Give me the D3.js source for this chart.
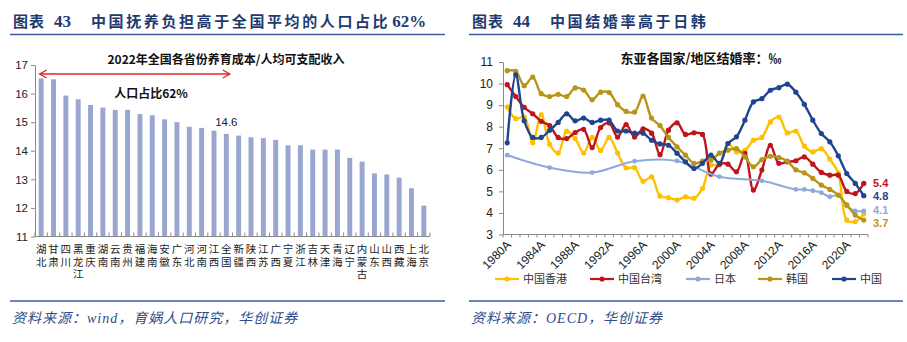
<!DOCTYPE html>
<html>
<head>
<meta charset="utf-8">
<script src="https://cdn.jsdelivr.net/npm/d3@7"></script>
<style>
  body { margin: 0; background: #fff; }
  svg { display: block; }
</style>
</head>
<body>
<svg id="drawing_region"></svg>
<script>
// ---- 图表43 data ----
const provinces = ["湖北","甘肃","四川","黑龙江","重庆","湖南","云南","贵州","福建","海南","安徽","广东","河北","河南","江西","全国",
                   "新疆","陕西","江苏","广西","宁夏","浙江","吉林","天津","青海","辽宁","内蒙古","山东","山西","西藏","上海","北京"];
const costIncomeRatio = [16.53,16.5,15.93,15.8,15.6,15.51,15.43,15.43,15.28,15.24,15.1,15.0,14.84,14.8,14.7,14.59,
                         14.53,14.47,14.44,14.38,14.19,14.19,14.04,14.04,14.04,13.75,13.62,13.21,13.17,13.06,12.69,12.08];
const leftTicks = [11,12,13,14,15,16,17];

// ---- 图表44 data (1980-2022) ----
const years = d3.range(1980, 2023);
const yearTicks = [1980,1984,1988,1992,1996,2000,2004,2008,2012,2016,2020];
const rightTicks = [3,4,5,6,7,8,9,10,11];
const hongKong = [8.92,8.37,8.45,7.26,8.56,7.18,6.78,7.79,7.45,6.78,7.5,6.9,7.5,6.78,6.09,6.1,5.47,5.67,4.78,4.71,
                  4.6,4.75,4.68,5.14,6.22,6.22,7.22,6.83,6.9,7.37,7.5,8.22,8.45,7.71,7.8,7.1,6.83,6.98,6.5,5.85,3.67,3.6,3.95];
const taiwan = [9.95,9.4,8.9,8.6,8.25,8.05,7.5,7.45,7.73,7.88,7.03,7.96,8.17,7.52,8.1,7.52,7.9,7.7,6.7,7.84,
                8.18,7.64,7.72,7.64,5.8,6.26,6.26,5.91,6.76,5.06,5.99,7.14,6.3,6.37,6.42,6.6,6.26,5.88,5.75,5.75,5.0,4.9,5.37];
const japan = [6.68,null,null,null,null,6.1,null,null,null,null,5.87,null,null,null,null,6.4,null,null,null,null,
               6.41,null,null,null,null,5.68,null,null,null,null,5.49,null,null,null,5.09,5.09,5.03,4.94,4.75,4.83,4.32,4.09,4.09];
const korea = [10.6,10.57,9.9,10.3,9.53,9.4,9.5,9.4,9.8,9.7,9.25,9.6,9.58,9.02,8.71,8.68,9.42,8.4,8.05,7.5,
               7.07,6.68,6.3,6.4,6.45,6.77,6.91,6.98,6.6,6.14,6.47,6.63,6.57,6.4,6.0,5.86,5.6,5.29,5.09,4.83,4.37,3.9,3.67];
const china = [7.25,10.4,8.27,7.5,7.5,7.83,8.2,8.6,8.27,8.4,8.2,8.3,8.3,7.8,7.8,7.7,7.7,7.37,7.2,7.14,
               6.77,6.37,6.06,6.3,6.68,6.3,7.22,7.53,8.3,9.15,9.3,9.69,9.81,9.97,9.6,9.04,8.3,7.68,7.3,6.65,5.83,5.37,4.8];
const seriesNames = ["中国香港","中国台湾","日本","韩国","中国"];
const seriesColors = ["#FFC000","#C0141C","#8EA9DB","#B89516","#1F4591"];
const endLabels = ["5.4","4.8","4.1","3.7"];

const FONT_CN = "'Noto Sans CJK SC', sans-serif";
const FONT_NUM = "'Liberation Sans', Arial, sans-serif";
const FONT_SERIF = "'Liberation Serif', serif";
const NAVY = "#1F3A70";
const RULE = "#3A5C9E";

const svg = d3.select('#drawing_region')
    .attr('width', 907)
    .attr('height', 342);

// ---------- panel frames (titles, rules, sources) ----------
function drawFrame(x0, x1, num, title, tail, source) {
    const t = svg.append('text')
        .attr('x', x0 + 3).attr('y', 27)
        .attr('fill', NAVY)
        .attr('font-weight', 700);
    t.append('tspan').text('图表').attr('font-family', FONT_CN).attr('font-size', '15px').attr('letter-spacing', '1px');
    t.append('tspan').text(num).attr('dx', 9).attr('font-family', FONT_SERIF).attr('font-size', '17px');
    t.append('tspan').text(title).attr('dx', 20).attr('font-family', FONT_CN).attr('font-size', '15px').attr('letter-spacing', '2.6px');
    if (tail) {
        t.append('tspan').text(tail).attr('dx', 2).attr('font-family', FONT_SERIF).attr('font-size', '17px');
    }

    svg.append('line')
        .attr('x1', x0).attr('x2', x1).attr('y1', 34.5).attr('y2', 34.5)
        .attr('stroke', RULE).attr('stroke-width', 1.5);
    svg.append('line')
        .attr('x1', x0).attr('x2', x1).attr('y1', 301).attr('y2', 301)
        .attr('stroke', RULE).attr('stroke-width', 1.5);

    svg.append('text')
        .attr('x', x0 + 2).attr('y', 323)
        .attr('fill', '#2E4C8C')
        .attr('font-family', FONT_SERIF + ", " + FONT_CN)
        .attr('font-style', 'italic')
        .attr('font-size', '14px')
        .attr('letter-spacing', '1px')
        .text(source);
}

drawFrame(10, 445, '43', '中国抚养负担高于全国平均的人口占比', '62%', '资料来源：wind，育娲人口研究，华创证券');
drawFrame(469, 903, '44', '中国结婚率高于日韩', null, '资料来源：OECD，华创证券');

// ---------- left: bar chart ----------
const left = { x0: 35, x1: 430, top: 65, bottom: 236.5 };

const xband = d3.scaleBand()
    .domain(provinces)
    .range([left.x0, left.x1])
    .paddingInner(0.6)
    .paddingOuter(0.3);

const yleft = d3.scaleLinear()
    .domain([11, 17])
    .range([left.bottom, left.top]);

const barChart = svg.append('g');

barChart.selectAll('rect')
    .data(costIncomeRatio)
    .enter()
    .append('rect')
    .attr('x', (d, i) => xband(provinces[i]))
    .attr('y', d => yleft(d))
    .attr('width', xband.bandwidth())
    .attr('height', d => yleft(11) - yleft(d))
    .attr('fill', '#98A6D0');

const yAxisLeft = barChart.append('g')
    .attr('transform', `translate(${left.x0},0)`)
    .call(d3.axisLeft(yleft).tickValues(leftTicks).tickFormat(d3.format('d'))
        .tickSize(4).tickSizeOuter(0).tickPadding(3));
yAxisLeft.selectAll('text').attr('font-family', FONT_NUM).attr('font-size', '11.5px').attr('fill', '#222');
yAxisLeft.selectAll('line, path').attr('stroke', '#8a8a8a');

// x axis line and inner ticks at band boundaries
barChart.append('line')
    .attr('x1', left.x0).attr('x2', left.x1)
    .attr('y1', left.bottom).attr('y2', left.bottom)
    .attr('stroke', '#8a8a8a');
const boundaries = provinces.map(p => xband(p) + xband.bandwidth() / 2 - xband.step() / 2);
boundaries.push(left.x1);
barChart.selectAll('.btick')
    .data(boundaries)
    .enter()
    .append('line')
    .attr('x1', d => d).attr('x2', d => d)
    .attr('y1', left.bottom).attr('y2', left.bottom - 4)
    .attr('stroke', '#8a8a8a');

// vertical category labels (vertical writing mode)
barChart.selectAll('.cat')
    .data(provinces)
    .enter()
    .append('text')
    .attr('x', d => xband(d) + xband.bandwidth() / 2)
    .attr('y', 244)
    .attr('writing-mode', 'vertical-rl')
    .style('text-orientation', 'upright')
    .attr('letter-spacing', '1.8px')
    .attr('font-family', FONT_CN)
    .attr('font-size', '10.5px')
    .attr('fill', '#222')
    .text(d => d);

// annotations
const arrowY = 74;
const ax0 = xband(provinces[0]) + 1;
const ax1 = xband('全国') + xband.bandwidth() + 1;
const arrow = barChart.append('g').attr('stroke', '#D62A2A').attr('stroke-width', 1.4).attr('fill', 'none');
arrow.append('line').attr('x1', ax0).attr('x2', ax1).attr('y1', arrowY).attr('y2', arrowY);
arrow.append('path').attr('d', `M${ax0 + 7},${arrowY - 4}L${ax0},${arrowY}L${ax0 + 7},${arrowY + 4}`);
arrow.append('path').attr('d', `M${ax1 - 7},${arrowY - 4}L${ax1},${arrowY}L${ax1 - 7},${arrowY + 4}`);

barChart.append('text')
    .attr('x', 226).attr('y', 64)
    .attr('text-anchor', 'middle')
    .attr('font-family', FONT_CN).attr('font-weight', 700).attr('font-size', '12px')
    .attr('fill', '#111')
    .text('2022年全国各省份养育成本/人均可支配收入');

barChart.append('text')
    .attr('x', 151).attr('y', 98)
    .attr('text-anchor', 'middle')
    .attr('font-family', FONT_CN).attr('font-weight', 700).attr('font-size', '12px')
    .attr('fill', '#111')
    .text('人口占比62%');

const natIdx = provinces.indexOf('全国');
barChart.append('text')
    .attr('x', xband('全国') + xband.bandwidth() / 2)
    .attr('y', yleft(costIncomeRatio[natIdx]) - 8)
    .attr('text-anchor', 'middle')
    .attr('font-family', FONT_NUM).attr('font-size', '11.5px')
    .attr('fill', '#222')
    .text(costIncomeRatio[natIdx].toFixed(1));

// ---------- right: line chart ----------
const right = { x0: 503, x1: 868, top: 62, bottom: 234.5 };

const xyear = d3.scaleLinear()
    .domain([1979.5, 2022.5])
    .range([right.x0, right.x1]);
const yright = d3.scaleLinear()
    .domain([3, 11])
    .range([right.bottom, right.top]);

const lineChart = svg.append('g');

const yAxisRight = lineChart.append('g')
    .attr('transform', `translate(${right.x0},0)`)
    .call(d3.axisLeft(yright).tickValues(rightTicks).tickFormat(d3.format('d'))
        .tickSize(4).tickSizeOuter(0).tickPadding(6));
yAxisRight.selectAll('text').attr('font-family', FONT_NUM).attr('font-size', '12px').attr('fill', '#222');
yAxisRight.selectAll('line, path').attr('stroke', '#8a8a8a');

lineChart.append('line')
    .attr('x1', right.x0).attr('x2', right.x1)
    .attr('y1', right.bottom).attr('y2', right.bottom)
    .attr('stroke', '#8a8a8a');
lineChart.selectAll('.ytick')
    .data(years.concat([2023]))
    .enter()
    .append('line')
    .attr('x1', d => xyear(d - 0.5)).attr('x2', d => xyear(d - 0.5))
    .attr('y1', right.bottom).attr('y2', right.bottom + 3)
    .attr('stroke', '#8a8a8a');

lineChart.selectAll('.ylabel')
    .data(yearTicks)
    .enter()
    .append('text')
    .attr('transform', d => `translate(${xyear(d) + 4.5},${right.bottom + 11}) rotate(-45)`)
    .attr('text-anchor', 'end')
    .attr('font-family', FONT_NUM).attr('font-size', '12px')
    .attr('fill', '#222')
    .text(d => d + 'A');

lineChart.append('text')
    .attr('x', 701).attr('y', 63)
    .attr('text-anchor', 'middle')
    .attr('font-family', FONT_CN).attr('font-weight', 700).attr('font-size', '13px')
    .attr('fill', '#111')
    .text('东亚各国家/地区结婚率：‰');

const allSeries = [hongKong, taiwan, japan, korea, china];
const line = d3.line()
    .x(d => xyear(d.year))
    .y(d => yright(d.value))
    .curve(d3.curveCatmullRom.alpha(0.5));

allSeries.forEach((vals, s) => {
    const pts = years.map((y, i) => ({ year: y, value: vals[i] })).filter(d => d.value != null);
    lineChart.append('path')
        .datum(pts)
        .attr('d', line)
        .attr('fill', 'none')
        .attr('stroke', seriesColors[s])
        .attr('stroke-width', s === 2 ? 2 : 2.4);
    lineChart.append('g')
        .selectAll('circle')
        .data(pts)
        .enter()
        .append('circle')
        .attr('cx', d => xyear(d.year))
        .attr('cy', d => yright(d.value))
        .attr('r', s === 2 ? 2.4 : 2.6)
        .attr('fill', seriesColors[s]);
});

// end labels: 台湾, 中国, 日本, 韩国
const endOrder = [1, 4, 2, 3];
const endY = [183, 196, 210, 223];
endOrder.forEach((s, k) => {
    lineChart.append('text')
        .attr('x', 873).attr('y', endY[k] + 4)
        .attr('font-family', FONT_NUM).attr('font-weight', 700).attr('font-size', '11px')
        .attr('fill', seriesColors[s])
        .text(endLabels[k]);
});

// legend
const legendX = [495, 590, 686, 758, 832];
seriesNames.forEach((name, s) => {
    const g = lineChart.append('g').attr('transform', `translate(${legendX[s]},279)`);
    g.append('line').attr('x1', 0).attr('x2', 24).attr('stroke', seriesColors[s]).attr('stroke-width', 2.2);
    g.append('circle').attr('cx', 12).attr('r', 2.6).attr('fill', seriesColors[s]);
    g.append('text')
        .attr('x', 28).attr('y', 4)
        .attr('font-family', FONT_CN).attr('font-size', '11px')
        .attr('fill', '#333')
        .text(name);
});
</script>
</body>
</html>
